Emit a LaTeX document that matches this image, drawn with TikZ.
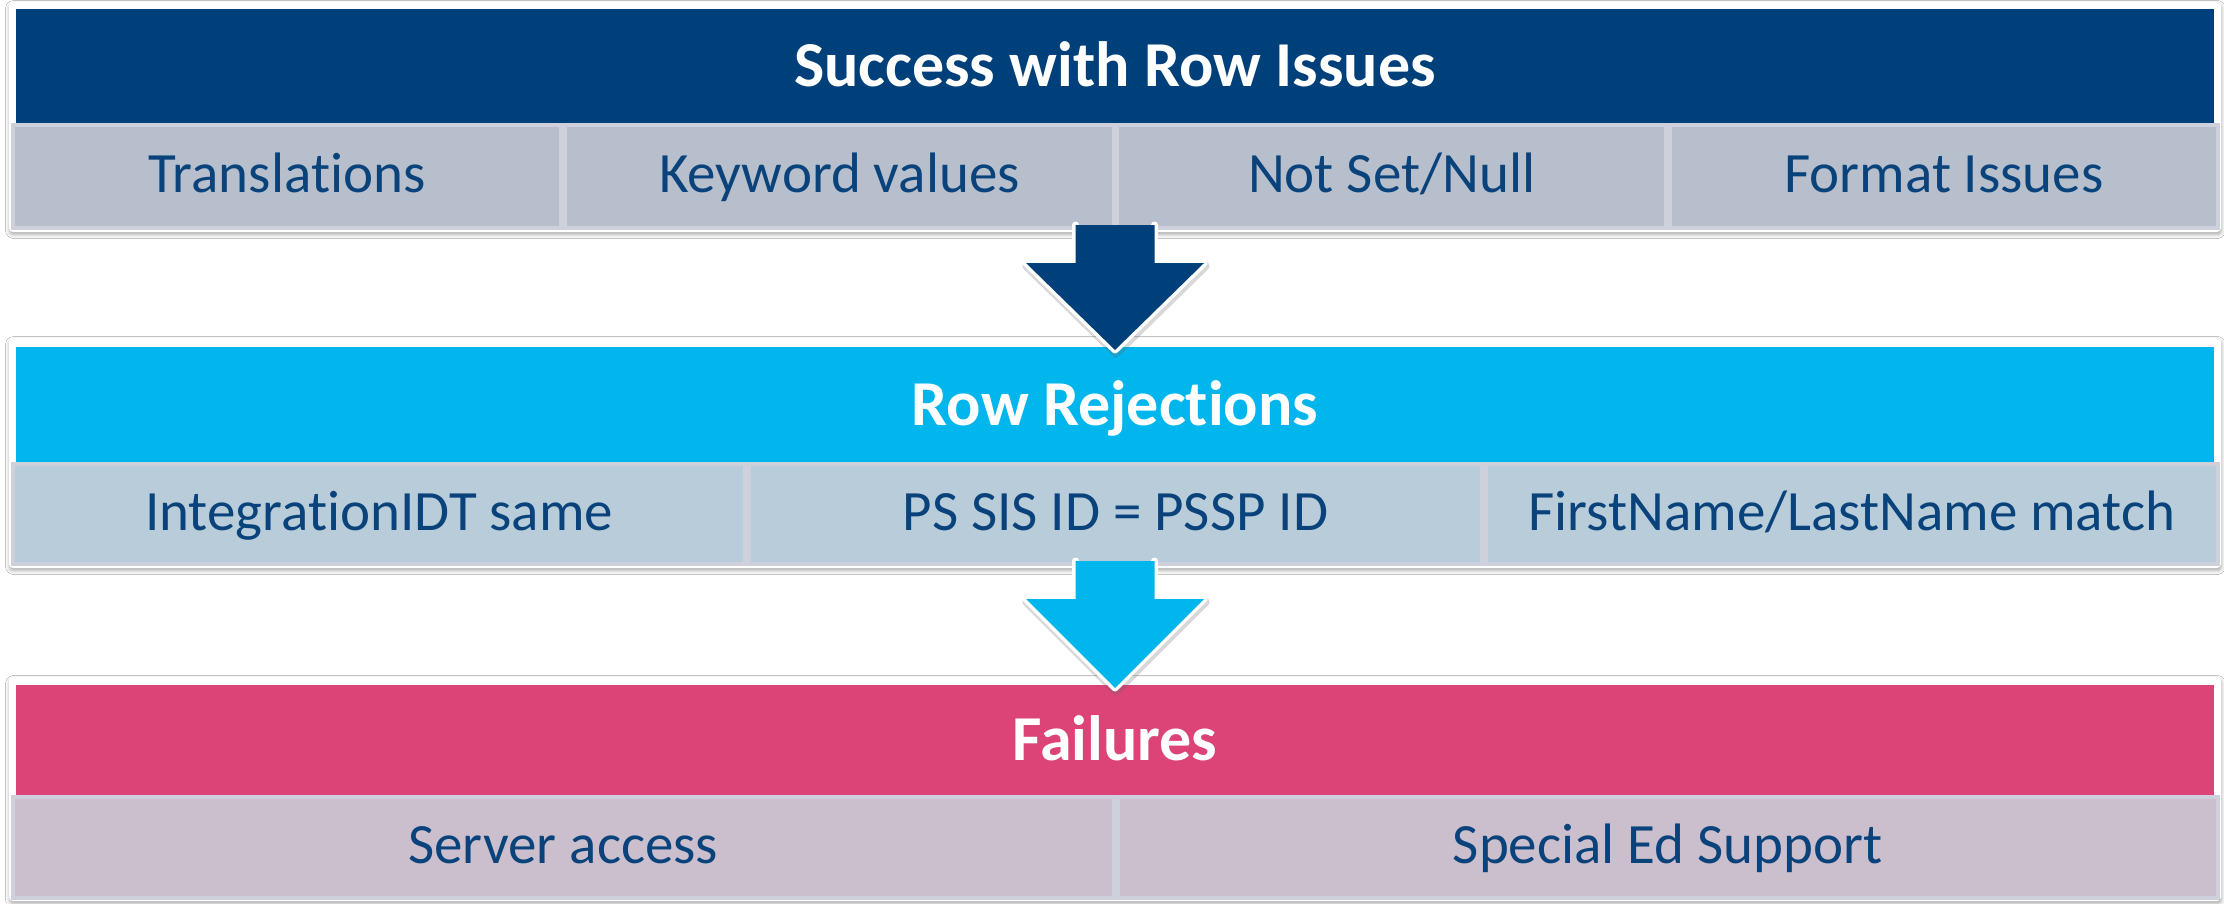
\documentclass[tikz,border=0pt]{standalone}
\usepackage{fontspec}
\setmainfont{Carlito}[Ligatures=NoCommon]
\usetikzlibrary{calc,shadows.blur}
\definecolor{navyhead}{HTML}{00407A}
\definecolor{cyanhead}{HTML}{00B6ED}
\definecolor{pinkhead}{HTML}{DC4377}
\definecolor{cellA}{HTML}{B6BFCB}
\definecolor{cellB}{HTML}{B8CDD9}
\definecolor{cellC}{HTML}{CBBFCD}
\definecolor{cellborder}{HTML}{CED1DB}
\definecolor{celltext}{HTML}{0A437B}
\newcommand{\blockarr}[3]{%
  \coordinate (#1-a) at ($(#1.south)+(-39.5,-7)$);
  \coordinate (#1-b) at ($(#1.south)+(-39.5,31)$);
  \coordinate (#1-c) at ($(#1.south)+(-89,31)$);
  \coordinate (#1-d) at ($(#2.north)+(0,3)$);
  \coordinate (#1-e) at ($(#1.south)+(89,31)$);
  \coordinate (#1-f) at ($(#1.south)+(39.5,31)$);
  \coordinate (#1-g) at ($(#1.south)+(39.5,-7)$);
  \draw[black!60,opacity=.25,line width=9pt,line join=round,transform canvas={xshift=1pt,yshift=-3pt}]
    (#1-b) -- (#1-c) -- (#1-d) -- (#1-e) -- (#1-f);
  \draw[white,line width=7pt,line join=round,line cap=round]
    (#1-a) -- (#1-b) -- (#1-c) -- (#1-d) -- (#1-e) -- (#1-f) -- (#1-g);
  \fill[#3] (#1-a) -- (#1-b) -- (#1-c) -- (#1-d) -- (#1-e) -- (#1-f) -- (#1-g) -- cycle;
}
\begin{document}
\begin{tikzpicture}[x=1pt,y=-1pt,
  frame/.style={fill=white,rounded corners=4pt,inner sep=0pt,outer sep=0pt,minimum width=2212pt,
    blur shadow={shadow xshift=0.5pt,shadow yshift=-2.5pt,shadow blur radius=4pt,shadow opacity=35}},
  head/.style={inner sep=0pt,outer sep=0pt,minimum width=2198pt,text=white,
    font=\fontsize{64}{70}\selectfont\bfseries,text height=41pt,text depth=0pt},
  cell/.style={draw=cellborder,line width=4pt,inner sep=0pt,outer sep=0pt,text=celltext,
    font=\fontsize{57}{62}\selectfont,text height=32pt,text depth=0pt}]
\useasboundingbox (0,0) rectangle (2224,903);
\fill[white] (0,0) rectangle (2224,903);
% frames
\node[frame,minimum height=230pt] (f1) at (1115,117) {};
\node[frame,minimum height=230pt] (f2) at (1115,453) {};
\node[frame,minimum height=224pt] (f3) at (1115,789) {};
% band 1
\node[head,fill=navyhead,minimum height=114pt] (h1) at (1115,66) {Success with Row Issues};
\node[cell,fill=cellA,minimum width=548.25pt,minimum height=103pt] (c11) at (287.1,176.5) {Translations};
\node[cell,fill=cellA,minimum width=548.25pt,minimum height=103pt] (c12) at (839.4,176.5) {Keyword values};
\node[cell,fill=cellA,minimum width=548.25pt,minimum height=103pt] (c13) at (1391.6,176.5) {Not Set/Null};
\node[cell,fill=cellA,minimum width=548.25pt,minimum height=103pt] (c14) at (1943.9,176.5) {Format Issues};
% band 2
\node[head,fill=cyanhead,minimum height=115pt] (h2) at (1115,404.5) {Row Rejections};
\node[cell,fill=cellB,minimum width=732.3pt,minimum height=100pt] (c21) at (379.2,514) {IntegrationIDT same};
\node[cell,fill=cellB,minimum width=732.3pt,minimum height=100pt] (c22) at (1115.5,514) {PS SIS ID = PSSP ID};
\node[cell,fill=cellB,minimum width=732.3pt,minimum height=100pt] (c23) at (1851.8,514) {FirstName/LastName match};
% band 3
\node[head,fill=pinkhead,minimum height=110pt] (h3) at (1115,740) {Failures};
\node[cell,fill=cellC,minimum width=1100.5pt,minimum height=101pt] (c31) at (563.25,847.5) {Server access};
\node[cell,fill=cellC,minimum width=1100.5pt,minimum height=101pt] (c32) at (1667.75,847.5) {Special Ed Support};
% arrows
\blockarr{f1}{h2}{navyhead}
\blockarr{f2}{h3}{cyanhead}
\end{tikzpicture}
\end{document}
